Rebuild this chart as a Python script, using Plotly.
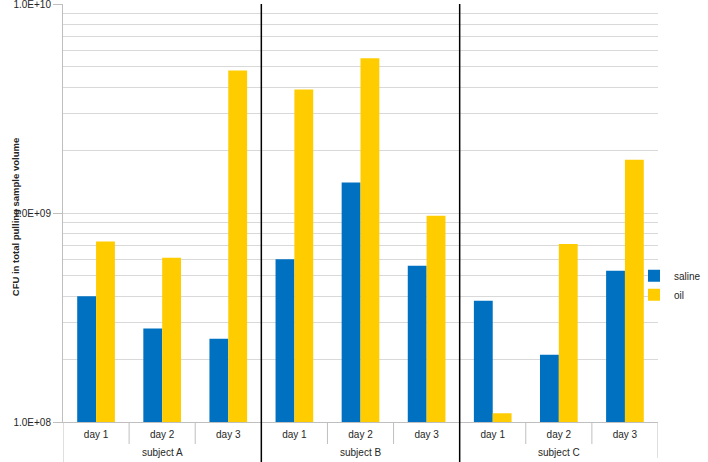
import plotly.graph_objects as go

subjects = ["subject A", "subject B", "subject C"]
days = ["day 1", "day 2", "day 3"]
saline = [4.0e8, 2.8e8, 2.5e8, 6.0e8, 1.4e9, 5.6e8, 3.8e8, 2.1e8, 5.3e8]
oil = [7.3e8, 6.1e8, 4.8e9, 3.9e9, 5.5e9, 9.7e8, 1.1e8, 7.1e8, 1.8e9]
y_tick_vals = [1e8, 1e9, 1e10]
y_tick_text = ["1.0E+08", "1.0E+09", "1.0E+10"]

n_days = len(days)
idx = list(range(len(subjects) * n_days))
day_labels = days * len(subjects)

W, H = 708, 462
ML, MR, MT, MB = 63, 50, 4, 40
plot_w = W - ML - MR
plot_h = H - MT - MB
FONT = "Liberation Sans, Arial, sans-serif"
TXT = "#262626"

fig = go.Figure()
fig.add_trace(go.Bar(x=idx, y=saline, name="saline", marker=dict(color="#0070C0", line=dict(width=0))))
fig.add_trace(go.Bar(x=idx, y=oil, name="oil", marker=dict(color="#FFCC00", line=dict(width=0))))

minor_vals = [k * 10 ** e for e in (8, 9) for k in range(2, 10)]

shapes = []
for i in idx[:-1]:
    b = i + 0.5
    if (i + 1) % n_days == 0:
        shapes.append(dict(type="line", xref="x", yref="paper", x0=b, x1=b, y0=-MB / plot_h, y1=1,
                           line=dict(color="black", width=1.5)))
    else:
        shapes.append(dict(type="line", xref="x", yref="paper", x0=b, x1=b, y0=-22 / plot_h, y1=0,
                           line=dict(color="#bfbfbf", width=1)))
shapes.append(dict(type="line", xref="x", yref="paper", x0=idx[0] - 0.5, x1=idx[0] - 0.5, y0=-MB / plot_h, y1=0,
                   line=dict(color="#bfbfbf", width=1)))
shapes.append(dict(type="line", xref="x", yref="paper", x0=idx[-1] + 0.5, x1=idx[-1] + 0.5, y0=-36 / plot_h, y1=0,
                   line=dict(color="#bfbfbf", width=1)))

annotations = []
for s_i, s in enumerate(subjects):
    center = sum(idx[s_i * n_days:(s_i + 1) * n_days]) / n_days
    annotations.append(dict(x=center, y=-30 / plot_h, xref="x", yref="paper", text=s, showarrow=False,
                            yanchor="middle", font=dict(family=FONT, size=10, color=TXT)))
annotations.append(dict(x=-48 / plot_w, y=0.49, xref="paper", yref="paper",
                        text="<b>CFU in total pulling sample volume</b>", textangle=-90, showarrow=False,
                        xanchor="center", yanchor="middle", font=dict(family=FONT, size=9.5, color=TXT)))

fig.update_layout(
    width=W, height=H,
    margin=dict(l=ML, r=MR, t=MT, b=MB, pad=0, autoexpand=False),
    paper_bgcolor="white", plot_bgcolor="white",
    barmode="group", bargap=0.43, bargroupgap=0,
    font=dict(family=FONT, size=10, color=TXT),
    showlegend=True,
    legend=dict(x=(W - ML - 2) / plot_w, xanchor="right", y=0.327, yanchor="middle", bgcolor="rgba(0,0,0,0)",
                font=dict(family=FONT, size=10, color=TXT), itemwidth=30, tracegroupgap=0),
    shapes=shapes,
    annotations=annotations,
    xaxis=dict(range=[idx[0] - 0.5, idx[-1] + 0.5], tickmode="array", tickvals=idx, ticktext=day_labels,
               showgrid=False, zeroline=False, showline=True, linecolor="#bfbfbf", linewidth=1,
               ticks="", ticklabelstandoff=3, automargin=False,
               tickfont=dict(family=FONT, size=10, color=TXT)),
    yaxis=dict(type="log", range=[8, 10], tickmode="array", tickvals=y_tick_vals, ticktext=y_tick_text,
               showgrid=True, gridcolor="#d9d9d9", gridwidth=1, zeroline=False,
               showline=True, linecolor="#bfbfbf", linewidth=1, automargin=False,
               ticks="outside", ticklen=9, tickcolor="#bfbfbf", ticklabeloverflow="allow",
               tickfont=dict(family=FONT, size=10, color=TXT),
               minor=dict(tickmode="array", tickvals=minor_vals, showgrid=True, gridcolor="#d9d9d9",
                          gridwidth=1, ticks="")),
)

fig.write_html("out.html", config={"displayModeBar": False},
               post_script="document.body.style.margin='0';")
